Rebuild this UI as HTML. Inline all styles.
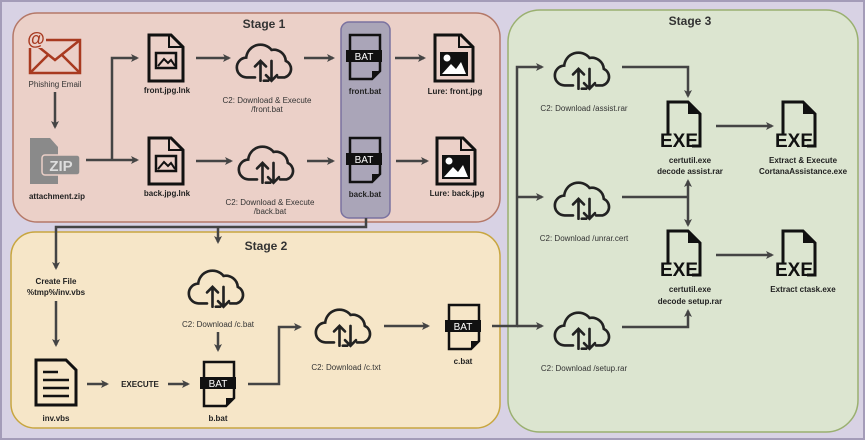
<!DOCTYPE html>
<html><head><meta charset="utf-8"><style>
html,body{margin:0;padding:0;background:#d8d2e4;}
svg{display:block;font-family:"Liberation Sans",sans-serif;}
.l{font-size:8px;fill:#222;text-anchor:middle;font-weight:bold;}
.c{font-size:8px;fill:#333;text-anchor:middle;}
.t{font-size:12px;font-weight:bold;fill:#333;text-anchor:middle;}
.a{stroke:#444;stroke-width:2.5;fill:none;}
</style></head><body>
<svg width="865" height="440" viewBox="0 0 865 440" xmlns="http://www.w3.org/2000/svg">
<defs>
<marker id="m" markerWidth="8" markerHeight="8" refX="6" refY="4" orient="auto" markerUnits="userSpaceOnUse"><path d="M0,0 L8,4 L0,8 L2,4 Z" fill="#444"/></marker>
<g id="cloud0" fill="none" stroke="#222" stroke-width="2.4" stroke-linecap="round">
<path d="M-10,14 H-17 A9,9 0 0 1 -18,-4 A13,13 0 0 1 5,-11 A11,11 0 0 1 18,-1 A8,8 0 0 1 17,14 H11"/>
<path d="M-5,17 V-1 M-10,4 L-5,-1 L0,4 M5,-1 V17 M0,12 L5,17 L10,12 M-2,17 H2"/>
</g>
<g id="cloud"><use href="#cloud0" transform="scale(1.1)"/></g>
<g id="img" fill="none" stroke="#111" stroke-width="3">
<path d="M2,2 H24 L36,14 V48 H2 Z"/><path d="M22,2 V14 H36" stroke-width="2"/>
<rect x="9" y="20" width="20" height="15" stroke-width="2.5"/><path d="M11,33 L17,26 L21,30 L24,27 L28,33" stroke-width="2"/>
</g>
<g id="lure">
<path d="M2,2 H28 L40,14 V48 H2 Z" fill="none" stroke="#111" stroke-width="3"/><path d="M26,2 V14 H40" fill="none" stroke="#111" stroke-width="2"/>
<rect x="7" y="19" width="28" height="24" fill="#111"/><circle cx="14" cy="25" r="3.5" fill="#fff"/><path d="M9,41 L18,31 L23,36 L28,29 L33,41 Z" fill="#fff"/>
</g>
<g id="bat">
<path d="M2,2 H32 V38 L24,46 H2 Z" fill="none" stroke="#111" stroke-width="2.5"/><path d="M24,46 V38 H32 Z" fill="#111"/>
<rect x="-2" y="17" width="36" height="12" fill="#111"/><text x="16" y="27" fill="#fff" font-size="10" text-anchor="middle">BAT</text>
</g>
<g id="exe">
<path d="M6,34 V2 H26 L38,14 V46 H30" fill="none" stroke="#111" stroke-width="3"/><path d="M26,2 L38,14 H26 Z" fill="#111"/>
<text x="-2" y="47" font-size="19" font-weight="bold" fill="#111">EXE</text>
</g>
</defs>
<rect x="1" y="1" width="863" height="438" fill="#d8d2e4" stroke="#a49cb8" stroke-width="2"/>
<rect x="13" y="13" width="487" height="209" rx="24" fill="#ebd0c8" stroke="#b47868" stroke-width="1.5"/>
<rect x="11" y="232" width="489" height="196" rx="24" fill="#f6e6c8" stroke="#c8a640" stroke-width="1.5"/>
<rect x="508" y="10" width="350" height="422" rx="32" fill="#dce5d0" stroke="#9ab070" stroke-width="1.5"/>
<rect x="341" y="22" width="49" height="196" rx="8" fill="#aaa5b8" stroke="#7a72a0" stroke-width="1.5"/>
<text class="t" x="264" y="28">Stage 1</text>
<text class="t" x="266" y="250">Stage 2</text>
<text class="t" x="690" y="25">Stage 3</text>
<g fill="none" stroke="#a83a20" stroke-width="2.5"><rect x="30" y="40" width="50" height="33"/><path d="M30,40 L55,60 L80,40 M30,73 L48,55 M80,73 L62,55"/></g>
<rect x="26" y="28" width="20" height="20" fill="#ebd0c8"/>
<text x="36" y="45" font-size="18" fill="#a83a20" text-anchor="middle" font-weight="bold">@</text>
<text class="c" x="55" y="87" fill="#555">Phishing Email</text>
<path d="M55,92 V127" class="a" marker-end="url(#m)"/>
<path d="M30,138 H50 L58,147 V184 H30 Z" fill="#8a8a8a"/><rect x="42" y="155" width="38" height="20" rx="3" fill="#8a8a8a" stroke="#ebd0c8" stroke-width="1.5"/>
<text x="61" y="171" font-size="15" fill="#ddd" text-anchor="middle" font-weight="bold">ZIP</text>
<text class="l" x="57" y="199">attachment.zip</text>
<path d="M86,160 H137" class="a" marker-end="url(#m)"/>
<path d="M112,160 V58 H137" class="a" marker-end="url(#m)"/>
<use href="#img" x="147" y="33"/><text class="l" x="167" y="93">front.jpg.lnk</text>
<use href="#img" x="147" y="136"/><text class="l" x="167" y="196">back.jpg.lnk</text>
<path d="M196,58 H229" class="a" marker-end="url(#m)"/>
<path d="M196,161 H231" class="a" marker-end="url(#m)"/>
<use href="#cloud" x="266" y="62"/><use href="#cloud" x="268" y="164"/>
<text class="c" x="267" y="103">C2: Download &amp; Execute</text><text class="c" x="267" y="112">/front.bat</text>
<text class="c" x="270" y="205">C2: Download &amp; Execute</text><text class="c" x="270" y="214">/back.bat</text>
<path d="M304,58 H333" class="a" marker-end="url(#m)"/>
<path d="M307,161 H333" class="a" marker-end="url(#m)"/>
<use href="#bat" x="348" y="33"/><text class="l" x="365" y="94">front.bat</text>
<use href="#bat" x="348" y="136"/><text class="l" x="365" y="197">back.bat</text>
<path d="M395,58 H424" class="a" marker-end="url(#m)"/>
<path d="M396,161 H427" class="a" marker-end="url(#m)"/>
<use href="#lure" x="433" y="33"/><text class="l" x="455" y="94">Lure: front.jpg</text>
<use href="#lure" x="435" y="136"/><text class="l" x="457" y="196">Lure: back.jpg</text>
<path d="M366,218 V227 H56 V268" class="a" marker-end="url(#m)"/>
<path d="M218,227 V242" class="a" marker-end="url(#m)"/>
<text class="l" x="56" y="284">Create File</text><text class="l" x="56" y="295">%tmp%/inv.vbs</text>
<path d="M56,301 V345" class="a" marker-end="url(#m)"/>
<path d="M36,360 H66 L76,370 V405 H36 Z" fill="none" stroke="#111" stroke-width="3"/>
<g stroke="#111" stroke-width="2.5"><path d="M43,372 H58 M43,380 H69 M43,388 H69 M43,396 H69"/></g>
<text class="l" x="56" y="421">inv.vbs</text>
<path d="M87,384 H107" class="a" marker-end="url(#m)"/>
<text class="l" x="140" y="387" font-size="8.5">EXECUTE</text>
<path d="M168,384 H188" class="a" marker-end="url(#m)"/>
<use href="#cloud" x="218" y="288"/>
<text class="c" x="218" y="327">C2: Download /c.bat</text>
<path d="M218,332 V350" class="a" marker-end="url(#m)"/>
<use href="#bat" x="202" y="360"/><text class="l" x="218" y="421">b.bat</text>
<path d="M248,384 H279 V327 H300" class="a" marker-end="url(#m)"/>
<use href="#cloud" x="345" y="327"/>
<text class="c" x="346" y="370">C2: Download /c.txt</text>
<path d="M384,326 H428" class="a" marker-end="url(#m)"/>
<use href="#bat" x="447" y="303"/><text class="l" x="463" y="364">c.bat</text>
<path d="M492,326 H517 V67 H542" class="a" marker-end="url(#m)"/>
<path d="M517,197 H542" class="a" marker-end="url(#m)"/>
<path d="M517,326 H542" class="a" marker-end="url(#m)"/>
<use href="#cloud" x="584" y="70"/><use href="#cloud" x="584" y="200"/><use href="#cloud" x="584" y="330"/>
<text class="c" x="584" y="111">C2: Download /assist.rar</text>
<text class="c" x="584" y="241">C2: Download /unrar.cert</text>
<text class="c" x="584" y="371">C2: Download /setup.rar</text>
<path d="M622,67 H688 V96" class="a" marker-end="url(#m)"/>
<path d="M622,197 H688" class="a"/>
<path d="M688,197 V181" class="a" marker-end="url(#m)"/>
<path d="M688,197 V225" class="a" marker-end="url(#m)"/>
<path d="M622,327 H688 V311" class="a" marker-end="url(#m)"/>
<use href="#exe" x="662" y="100"/><text class="l" x="690" y="163">certutil.exe</text><text class="l" x="690" y="174">decode assist.rar</text>
<use href="#exe" x="662" y="229"/><text class="l" x="690" y="292">certutil.exe</text><text class="l" x="690" y="304">decode setup.rar</text>
<path d="M716,126 H772" class="a" marker-end="url(#m)"/>
<path d="M716,255 H772" class="a" marker-end="url(#m)"/>
<use href="#exe" x="777" y="100"/><text class="l" x="803" y="163">Extract &amp; Execute</text><text class="l" x="803" y="174">CortanaAssistance.exe</text>
<use href="#exe" x="777" y="229"/><text class="l" x="803" y="292">Extract ctask.exe</text>
</svg>
</body></html>
